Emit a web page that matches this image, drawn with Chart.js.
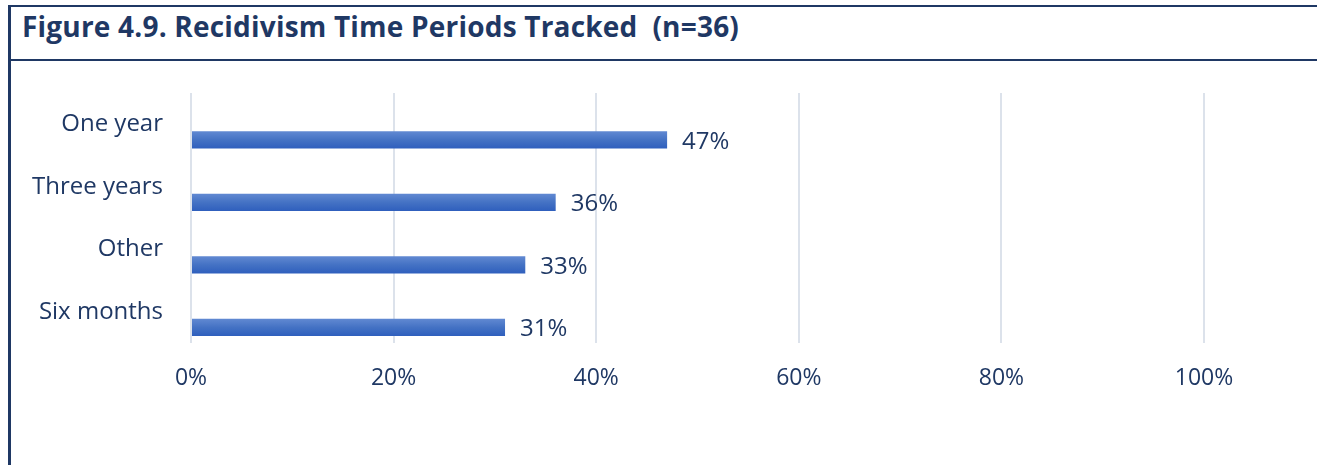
<!DOCTYPE html>
<html>
<head>
<meta charset="utf-8">
<title>Recidivism Time Periods Tracked</title>
<script src="https://cdn.jsdelivr.net/npm/chart.js@4/dist/chart.umd.min.js"></script>
<style>
  html, body { margin: 0; padding: 0; background: #fff; }
  body { width: 1317px; height: 465px; position: relative; overflow: hidden; font-family: 'Open Sans', sans-serif; }
  .frame {
    position: absolute; left: 8px; top: 5px; right: 0; bottom: 0;
    border-top: 2px solid #1f3864; border-left: 3px solid #1f3864;
  }
  .frame__title {
    height: 54px; border-bottom: 2px solid #1f3864; box-sizing: border-box;
    padding-left: 11px; line-height: 38px; letter-spacing: 0.2px;
    color: #1f3864; font-weight: 700; font-size: 28px; white-space: pre;
  }
  #chart { position: absolute; left: 11px; top: 63px; }
</style>
</head>
<body>
<div class="frame">
  <div class="frame__title">Figure 4.9. Recidivism Time Periods Tracked  (n=36)</div>
</div>
<canvas id="chart" width="1306" height="402"></canvas>
<script>
const categories = ['One year', 'Three years', 'Other', 'Six months'];
const spacerValues = [null, null, null, null];
const percentValues = [47, 36, 33, 31];
const tickValues = [0, 20, 40, 60, 80, 100];

const NAVY = '#1f3864';

// Bars get a light-to-dark vertical gradient, one per bar
const barGradient = {
  id: 'barGradient',
  beforeDatasetsDraw(chart) {
    const meta = chart.getDatasetMeta(1);
    const ctx = chart.ctx;
    meta.data.forEach((bar) => {
      const top = bar.y - bar.height / 2;
      const g = ctx.createLinearGradient(0, top, 0, top + bar.height);
      g.addColorStop(0, '#6189d2');
      g.addColorStop(0.5, '#4472c4');
      g.addColorStop(1, '#2f5fbd');
      bar.options = Object.assign({}, bar.options, { backgroundColor: g });
    });
  },
};

// Percent label to the right of each bar
const valueLabels = {
  id: 'valueLabels',
  afterDatasetsDraw(chart) {
    const meta = chart.getDatasetMeta(1);
    const ctx = chart.ctx;
    ctx.save();
    ctx.font = '24px "Open Sans"';
    ctx.fillStyle = NAVY;
    ctx.textAlign = 'left';
    ctx.textBaseline = 'middle';
    meta.data.forEach((bar, i) => {
      ctx.fillText(percentValues[i] + '%', bar.x + 15, bar.y + 2);
    });
    ctx.restore();
  },
};

new Chart(document.getElementById('chart'), {
  type: 'bar',
  data: {
    labels: categories,
    datasets: [
      { label: '', data: spacerValues, backgroundColor: 'rgba(0,0,0,0)' },
      { label: 'Percent', data: percentValues, backgroundColor: '#4472c4' },
    ],
  },
  options: {
    indexAxis: 'y',
    responsive: false,
    animation: false,
    categoryPercentage: 1.0,
    barPercentage: 0.55,
    layout: { padding: { top: 30, right: 113, left: 0, bottom: 0 } },
    plugins: { legend: { display: false }, tooltip: { enabled: false } },
    scales: {
      x: {
        min: 0,
        max: 100,
        afterBuildTicks: (scale) => {
          scale.ticks = tickValues.map((v) => ({ value: v }));
        },
        afterFit: (scale) => { scale.height = 122; },
        border: { display: false },
        grid: { color: '#dce2eb', lineWidth: 2, drawTicks: false },
        ticks: {
          padding: 22,
          color: NAVY,
          font: { family: 'Open Sans', size: 23 },
          callback: (v) => v + '%',
        },
      },
      y: {
        afterFit: (scale) => {
          scale.width = 180;
          scale.paddingTop = 0;
          scale.paddingBottom = 0;
        },
        border: { display: false },
        grid: { display: false, drawTicks: false },
        ticks: {
          padding: 28,
          color: NAVY,
          font: { family: 'Open Sans', size: 24 },
        },
      },
    },
  },
  plugins: [barGradient, valueLabels],
});
</script>
</body>
</html>
